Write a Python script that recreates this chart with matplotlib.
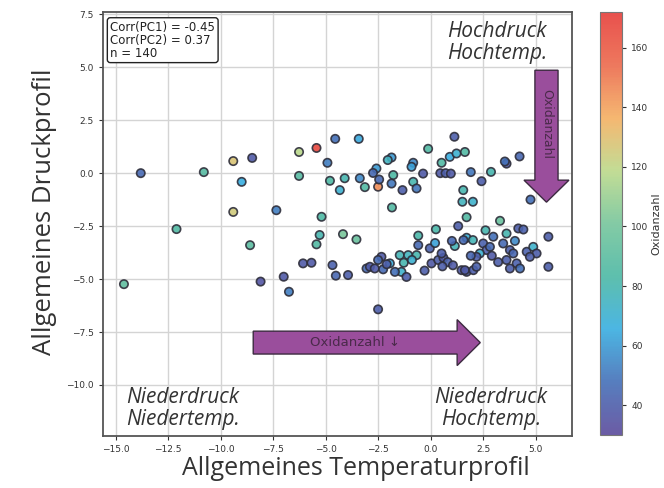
import numpy as np
import matplotlib
matplotlib.use("Agg")
import matplotlib.pyplot as plt
from matplotlib.colors import LinearSegmentedColormap

# PC scores (x = Temperaturprofil, y = Druckprofil) and colour value
pc1 = [-13.8, -10.8, -9.4, -8.5, -9.0, -9.4, -12.1, -8.6, -14.6, -8.1,
       -6.27, -5.44, -4.55, -3.43, -4.92, -6.27, -4.8, -4.1, -4.33, -3.38,
       -3.14, -7.35, -5.2, -5.29, -4.18, -3.54, -5.44, -6.08, -5.68, -4.68,
       -4.52, -3.94, -3.06, -7.0, -6.75,
       -1.87, -2.05, -0.13, 1.12, -0.84, -0.92, -2.59, -2.75, -2.51, -2.46,
       -1.79, -1.87, -0.37, -0.84, -0.68, -1.35, -1.85, 0.51, 0.9, 1.22,
       1.62, 0.45, 0.7, 0.95, 1.9, 1.54, 1.5, 2.0, 1.7, 2.41,
       2.86, 3.6, 3.52, 4.22, 4.74, 3.29,
       -0.6, 0.24, 1.3, -0.6, 1.14, 1.7, -0.05, -1.48, -1.08, -0.68,
       -2.35, -2.51, -1.95, -1.29, -1.4, -1.71, -2.9, -2.67, -2.27, -1.16,
       0.03, 0.35, 0.6, 0.8, 1.05, 0.55, 0.51, 1.46, 1.7, -2.51,
       1.55, 2.0, 3.6, 4.16, 4.4, 5.59, 5.59, 2.97, 2.49, 2.65,
       2.81, 2.33, 2.17, 1.62, 2.02, 2.17, 3.44, 3.76, 3.92, 3.6,
       4.08, 4.24, 3.76, 4.56, 4.87, 5.03, 4.71,
       2.9, 3.2, 1.0, -0.3, 2.6, 4.0, -2.1, 1.9, 0.2, -0.9]
pc2 = [0.0, 0.05, 0.57, 0.72, -0.41, -1.83, -2.64, -3.4, -5.24, -5.12,
       1.0, 1.19, 1.62, 1.62, 0.49, -0.13, -0.36, -0.24, -0.8, -0.24,
       -0.66, -1.75, -2.06, -2.92, -2.88, -3.13, -3.36, -4.26, -4.23, -4.34,
       -4.84, -4.81, -4.5, -4.89, -5.6,
       0.74, 0.62, 1.15, 1.72, 0.49, 0.3, 0.22, 0.01, -0.64, -0.3,
       -0.09, -0.49, -0.02, -0.41, -0.72, -0.8, -1.62, 0.49, 0.77, 0.93,
       1.0, 0.0, 0.0, -0.02, 0.05, -0.8, -1.35, -1.35, -2.08, -0.38,
       0.06, 0.45, 0.55, 0.79, -1.25, -2.25,
       -2.95, -2.65, -2.5, -3.4, -3.44, -3.05, -3.55, -3.87, -3.87, -3.87,
       -3.95, -4.1, -4.26, -4.23, -4.66, -4.66, -4.42, -4.5, -4.54, -4.9,
       -4.26, -4.1, -4.0, -4.2, -4.35, -4.4, -3.79, -4.58, -4.66, -6.43,
       -3.16, -3.16, -2.85, -2.61, -2.66, -3.0, -4.42, -3.0, -3.32, -3.63,
       -3.48, -3.79, -3.95, -4.58, -4.58, -4.42, -3.32, -3.63, -3.79, -4.1,
       -4.26, -4.5, -4.5, -3.71, -3.48, -3.79, -3.95,
       -3.9, -4.2, -3.2, -4.6, -2.7, -3.2, -4.3, -3.9, -3.3, -4.1]
colour_val = [45, 88, 128, 38, 66, 125, 86, 90, 92, 36,
              118, 168, 48, 64, 52, 88, 84, 80, 70, 55,
              86, 52, 84, 80, 102, 96, 86, 38, 38, 42,
              44, 40, 46, 38, 52,
              60, 75, 86, 40, 55, 62, 60, 45, 145, 45,
              84, 50, 38, 80, 50, 40, 86, 86, 65, 70,
              86, 38, 40, 38, 50, 80, 76, 72, 86, 40,
              80, 38, 48, 44, 48, 96,
              82, 82, 40, 45, 78, 68, 42, 78, 76, 80,
              38, 46, 66, 80, 72, 48, 38, 38, 46, 40,
              38, 40, 38, 42, 38, 40, 40, 38, 40, 40,
              46, 78, 80, 40, 42, 40, 40, 48, 42, 40,
              46, 70, 40, 38, 40, 42, 46, 40, 44, 40,
              42, 48, 40, 42, 72, 40, 40,
              38, 40, 45, 40, 80, 55, 40, 44, 62, 70]

xticks = [-15.0, -12.5, -10.0, -7.5, -5.0, -2.5, 0.0, 2.5, 5.0]
yticks = [-10.0, -7.5, -5.0, -2.5, 0.0, 2.5, 5.0, 7.5]
cbar_ticks = [40, 60, 80, 100, 120, 140, 160]

cmap = LinearSegmentedColormap.from_list(
    "soft_spectral",
    ["#5b4a9b", "#4470b8", "#38aee0", "#4cb8a4", "#76c59b",
     "#bcd98a", "#f4b062", "#ec6a4c", "#e63e3a"])

fig = plt.figure(figsize=(6.64, 4.88), dpi=100)
ax = fig.add_axes([0.155, 0.107, 0.706, 0.868])
cax = fig.add_axes([0.904, 0.109, 0.033, 0.866])

ax.grid(True, color="#d4d4d4", linewidth=1.0, zorder=0)
sc = ax.scatter(pc1, pc2, c=colour_val, cmap=cmap, vmin=30, vmax=172,
                s=36, edgecolors="#2e2e3a", linewidths=1.2, alpha=0.9, zorder=3)

ax.set_xlim(-15.6, 6.7)
ax.set_ylim(-12.4, 7.6)
ax.set_xticks(xticks)
ax.set_yticks(yticks)
ax.tick_params(labelsize=6.5, colors="#333333", length=3)
for s in ax.spines.values():
    s.set_color("#555555")
    s.set_linewidth(1.3)

ax.set_xlabel("Allgemeines Temperaturprofil", fontsize=18, family="Open Sans",
              color="#333333")
ax.xaxis.set_label_coords(0.54, -0.047)
ax.set_ylabel("Allgemeines Druckprofil", fontsize=18.5, family="Open Sans",
              color="#333333")
ax.yaxis.set_label_coords(-0.098, 0.53)

# arrows
arrow_fc = "#9a4e9c"
ax.arrow(-8.45, -8.0, 10.8, 0, width=1.08, head_width=2.17, head_length=1.1,
         length_includes_head=True, fc=arrow_fc, ec="#3c2a40", lw=1.0, zorder=4)
ax.text(-3.6, -8.0, "Oxidanzahl ↓", fontsize=9.5, color="#4a2a4a",
        ha="center", va="center", zorder=5)
ax.arrow(5.5, 4.86, 0, -6.23, width=1.1, head_width=2.14, head_length=1.04,
         length_includes_head=True, fc=arrow_fc, ec="#3c2a40", lw=1.0, zorder=4)
ax.text(5.5, 2.3, "Oxidanzahl", fontsize=9, color="#4a2a4a", rotation=-90,
        ha="center", va="center", zorder=5)

# quadrant labels
qkw = dict(fontsize=15, style="italic", family="Open Sans", color="#333333",
           ha="center", linespacing=1.1, zorder=5)
ax.text(3.15, 7.2, "Hochdruck\nHochtemp.", va="top", **qkw)
ax.text(-11.8, -12.15, "Niederdruck\nNiedertemp.", va="bottom", **qkw)
ax.text(2.86, -12.15, "Niederdruck\nHochtemp.", va="bottom", **qkw)

ax.text(-15.25, 7.2, "Corr(PC1) = -0.45\nCorr(PC2) = 0.37\nn = 140",
        fontsize=8.5, va="top", ha="left", color="#222222", zorder=6,
        linespacing=1.0,
        bbox=dict(boxstyle="round,pad=0.25", fc="white", ec="#222222", lw=1.0))

cb = fig.colorbar(sc, cax=cax)
cb.set_ticks(cbar_ticks)
cb.ax.tick_params(labelsize=6.5, colors="#333333", length=3)
cb.outline.set_edgecolor("#777777")
cb.set_label("Oxidanzahl", fontsize=8, color="#333333", labelpad=2)

fig.savefig("out.png", dpi=100)
